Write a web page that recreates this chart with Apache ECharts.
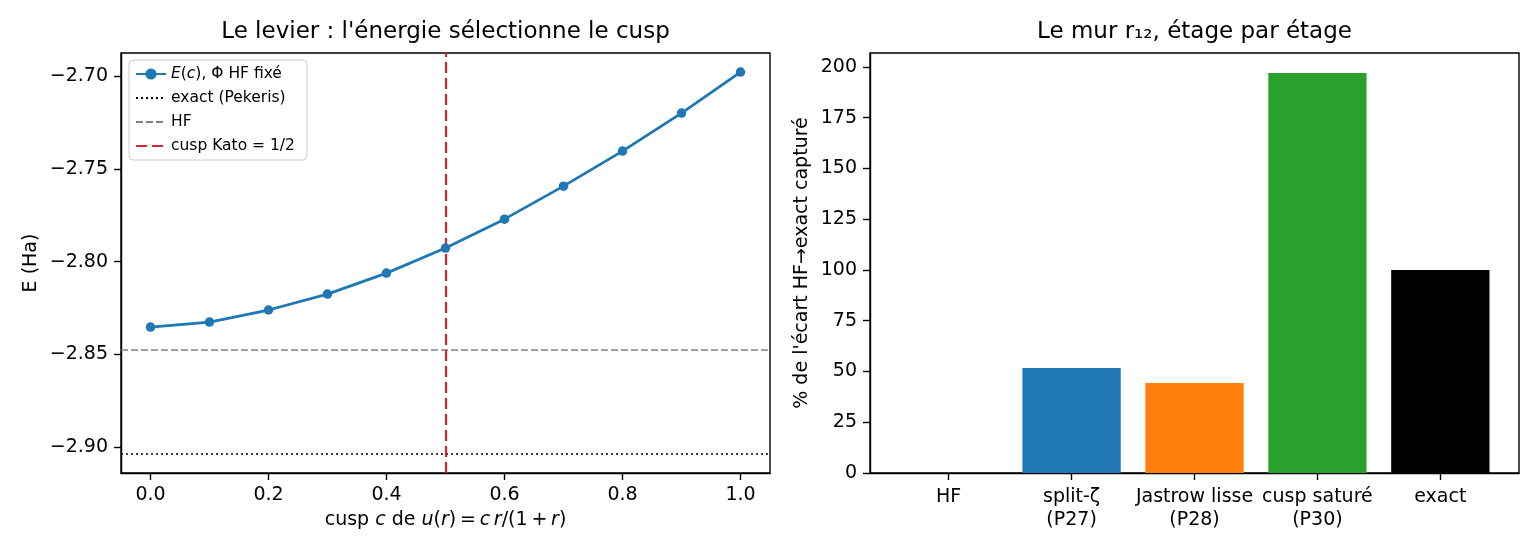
<!DOCTYPE html>
<html><head><meta charset="utf-8">
<script src="https://cdn.jsdelivr.net/npm/echarts@6/dist/echarts.min.js"></script>
<style>html,body{margin:0;padding:0;background:#fff}#c{width:1540px;height:560px}</style>
</head><body><div id="c"></div>
<script>
// ---- data ----
const cuspValues = [0.0, 0.1, 0.2, 0.3, 0.4, 0.5, 0.6, 0.7, 0.8, 0.9, 1.0];
const energies = [-2.8353, -2.8326, -2.8261, -2.8175, -2.8062, -2.7927, -2.7771, -2.7593, -2.7404, -2.7199, -2.6978];
const exactEnergy = -2.90372;
const hfEnergy = -2.84766;
const katoCusp = 0.5;
const leftXTicks = [0.0, 0.2, 0.4, 0.6, 0.8, 1.0];
const leftYTicks = [-2.90, -2.85, -2.80, -2.75, -2.70];

const barCategories = ['HF', 'split-ζ\n(P27)', 'Jastrow lisse\n(P28)', 'cusp saturé\n(P30)', 'exact'];
const barValues = [0, 51.7, 44.3, 197.0, 100];
const barColors = ['#7f7f7f', '#1f77b4', '#ff7f0e', '#2ca02c', '#000000'];

const FONT = 'DejaVu Sans';
const chart = echarts.init(document.getElementById('c'));

const xyPairs = cuspValues.map((c, i) => [c, energies[i]]);
const barData = barValues.map((v, i) => ({ value: [i, v], itemStyle: { color: barColors[i] } }));
const barIdx = barCategories.map((_, i) => i);

const tickStyle = { show: true, inside: false, length: 7, lineStyle: { color: '#000', width: 1.4 } };
const labelStyle = { color: '#000', fontSize: 19, fontFamily: FONT, margin: 13 };
const axisLineStyle = { show: true, onZero: false, lineStyle: { color: '#000', width: 1.4 } };

chart.setOption({
  animation: false,
  textStyle: { fontFamily: FONT },
  title: [
    { text: "Le levier : l'énergie sélectionne le cusp", left: 445.5, top: 21, padding: 0, textAlign: 'center',
      textStyle: { fontSize: 23, fontWeight: 'normal', color: '#000', fontFamily: FONT } },
    { text: 'Le mur r₁₂, étage par étage', left: 1194.5, top: 21, padding: 0, textAlign: 'center',
      textStyle: { fontSize: 23, fontWeight: 'normal', color: '#000', fontFamily: FONT } }
  ],
  legend: {
    orient: 'vertical', left: 129, top: 60,
    data: [
      { name: 'E(c), Φ HF fixé' },
      { name: 'exact (Pekeris)', itemStyle: { opacity: 0 } },
      { name: 'HF', itemStyle: { opacity: 0 } },
      { name: 'cusp Kato = 1/2', itemStyle: { opacity: 0 } }
    ],
    backgroundColor: '#fff', borderColor: '#cccccc', borderWidth: 1, borderRadius: 4,
    padding: [6, 12, 6, 6], itemGap: 8, itemWidth: 30, itemHeight: 14,
    textStyle: { fontSize: 15.5, fontFamily: FONT, color: '#000',
      rich: { i: { fontStyle: 'italic', fontSize: 15.5, fontFamily: FONT } } },
    formatter: function (name) {
      if (name === 'E(c), Φ HF fixé') return '{i|E}({i|c}), Φ HF fixé';
      return name;
    }
  },
  grid: [
    { left: 121, top: 53, width: 649, height: 420, show: true, borderColor: '#000', borderWidth: 1.4, backgroundColor: 'transparent' },
    { left: 870, top: 53, width: 649, height: 420, show: true, borderColor: '#000', borderWidth: 1.4, backgroundColor: 'transparent' }
  ],
  xAxis: [
    { type: 'value', gridIndex: 0, min: -0.05, max: 1.05,
      axisLine: axisLineStyle,
      splitLine: { show: false },
      axisTick: Object.assign({ customValues: leftXTicks }, tickStyle),
      axisLabel: Object.assign({ customValues: leftXTicks, formatter: v => v.toFixed(1) }, labelStyle),
      name: 'cusp {i|c} de {i|u}({i|r})\u2009=\u2009{i|c}\u2009{i|r}/(1\u2009+\u2009{i|r})',
      nameLocation: 'middle', nameGap: 38,
      nameTextStyle: { fontSize: 19, color: '#000', fontFamily: FONT,
        rich: { i: { fontStyle: 'italic', fontSize: 19, fontFamily: FONT, color: '#000' } } }
    },
    { type: 'value', gridIndex: 1, min: -0.64, max: 4.64,
      axisLine: axisLineStyle,
      splitLine: { show: false },
      axisTick: Object.assign({ customValues: barIdx }, tickStyle),
      axisLabel: Object.assign({ customValues: barIdx, formatter: v => barCategories[Math.round(v)], lineHeight: 23 }, labelStyle)
    }
  ],
  yAxis: [
    { type: 'value', gridIndex: 0, min: -2.9140, max: -2.6875,
      axisLine: axisLineStyle,
      splitLine: { show: false },
      axisTick: Object.assign({ customValues: leftYTicks }, tickStyle),
      axisLabel: Object.assign({ customValues: leftYTicks, formatter: v => '\u2212' + Math.abs(v).toFixed(2) }, labelStyle),
      name: 'E (Ha)', nameLocation: 'middle', nameGap: 80,
      nameTextStyle: { fontSize: 19, color: '#000', fontFamily: FONT }
    },
    { type: 'value', gridIndex: 1, min: 0, max: 206.85, interval: 25,
      axisLine: axisLineStyle,
      splitLine: { show: false },
      axisTick: tickStyle,
      axisLabel: Object.assign({ showMaxLabel: false }, labelStyle),
      name: "% de l'écart HF→exact capturé", nameLocation: 'middle', nameGap: 58,
      nameTextStyle: { fontSize: 19, color: '#000', fontFamily: FONT }
    }
  ],
  series: [
    { name: 'exact (Pekeris)', type: 'line', xAxisIndex: 0, yAxisIndex: 0, data: [], symbol: 'none',
      lineStyle: { color: '#000', width: 1.6, type: [2, 3] }, itemStyle: { color: '#000' },
      markLine: { silent: true, symbol: 'none', precision: 6, label: { show: false }, animation: false,
        lineStyle: { color: '#000', width: 1.6, type: [2, 3] }, data: [{ yAxis: exactEnergy }] } },
    { name: 'HF', type: 'line', xAxisIndex: 0, yAxisIndex: 0, data: [], symbol: 'none',
      lineStyle: { color: '#808080', width: 1.6, type: [7, 3] }, itemStyle: { color: '#808080' },
      markLine: { silent: true, symbol: 'none', precision: 6, label: { show: false }, animation: false,
        lineStyle: { color: '#808080', width: 1.6, type: [7, 3] }, data: [{ yAxis: hfEnergy }] } },
    { name: 'cusp Kato = 1/2', type: 'line', xAxisIndex: 0, yAxisIndex: 0, data: [], symbol: 'none',
      lineStyle: { color: '#d62728', width: 2.2, type: [11, 5] }, itemStyle: { color: '#d62728' },
      markLine: { silent: true, symbol: 'none', precision: 6, label: { show: false }, animation: false,
        lineStyle: { color: '#d62728', width: 2.2, type: [11, 5] }, data: [{ xAxis: katoCusp }] } },
    { name: 'E(c), Φ HF fixé', type: 'line', xAxisIndex: 0, yAxisIndex: 0, data: xyPairs,
      symbol: 'circle', symbolSize: 9.5, showSymbol: true, z: 5,
      lineStyle: { color: '#1f77b4', width: 2.8 }, itemStyle: { color: '#1f77b4' } },
    { name: 'bars', type: 'bar', xAxisIndex: 1, yAxisIndex: 1, data: barData, barWidth: 98.3 }
  ]
});
</script></body></html>
